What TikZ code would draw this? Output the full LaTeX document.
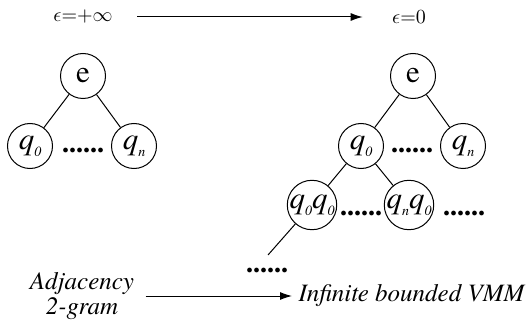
\documentclass[tikz,border=0pt]{standalone}
\usepackage{amsmath}
\usepackage{fontspec}
\setmainfont{TeX Gyre Termes}
\usetikzlibrary{arrows.meta}

\newcommand{\qsub}[1]{\textit{q}\raisebox{-3.5pt}{\fontsize{7}{8}\selectfont\itshape #1}}

\begin{document}
\begin{tikzpicture}[>={Latex[length=6pt,width=4pt]},x=0.5pt,y=-0.5pt,line width=0.5pt,
  state/.style={circle,draw,minimum size=22.5pt,inner sep=0pt,font=\fontsize{15.5}{17}\selectfont},
  dots/.style={anchor=base,inner sep=0pt,font=\fontsize{14}{16}\selectfont\bfseries},
  caption/.style={inner sep=0pt,align=center,font=\fontsize{12.5}{12.5}\selectfont\itshape}]
\useasboundingbox (0,0) rectangle (528,320);
% top: epsilon goes from +inf to 0
\node[inner sep=0pt,font=\fontsize{10}{11}\selectfont] (epsInf) at (83,17) {$\epsilon{=}{+}\infty$};
\node[inner sep=0pt,font=\fontsize{10}{11}\selectfont] (epsZero) at (409,17) {$\epsilon{=}0$};
\draw[->, shorten <=12pt, shorten >=14.5pt] (epsInf) -- (epsZero);
% left tree
\node[state] (eL) at (83,76) {e};
\node[state] (q0L) at (30,146) {\qsub{0}};
\node[state] (qnL) at (134,146) {\qsub{n}};
\node[dots] (dotsL) at (83,152) {......};
\draw (eL) -- (q0L);
\draw (eL) -- (qnL);
% right tree
\node[state] (eR) at (413,76) {e};
\node[state] (q0R) at (361,146) {\qsub{0}};
\node[state] (qnR) at (463,146) {\qsub{n}};
\node[dots] (dotsR) at (412,152) {......};
\node[state] (q0q0) at (312,205) {\qsub{0}\qsub{0}};
\node[state] (qnq0) at (409,205) {\qsub{n}\qsub{0}};
\node[dots] (dotsMid) at (361,215) {......};
\node[dots] (dotsEnd) at (464,215) {......};
\node[dots] (dotsLow) at (267,272) {......};
\coordinate (deep) at (268,255);
\draw (eR) -- (q0R);
\draw (eR) -- (qnR);
\draw (q0R) -- (q0q0);
\draw (q0R) -- (qnq0);
\draw (q0q0) -- (deep);
% bottom: model names
\node[caption] (adj) at (82,296) {Adjacency\\2-gram};
\node[caption,anchor=west] (vmm) at (298,296) {Infinite bounded VMM};
\draw[->, shorten <=5.5pt, shorten >=3pt] (adj) -- (vmm);
\end{tikzpicture}
\end{document}
